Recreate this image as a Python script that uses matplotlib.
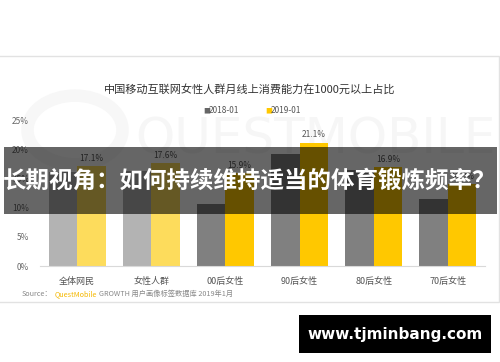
import matplotlib
matplotlib.use("Agg")
import matplotlib.pyplot as plt
from matplotlib.patches import Rectangle, Circle
import numpy as np

plt.rcParams['font.family'] = ['Noto Sans CJK SC', 'DejaVu Sans']

categories = ['全体网民', '女性人群', '00后女性', '90后女性', '80后女性', '70后女性']
vals_2018 = [16.1, 16.2, 10.7, 19.1, 16.4, 11.5]
vals_2019 = [17.1, 17.6, 15.9, 21.1, 16.9, 14.0]
labels_2019 = ['17.1%', '17.6%', '15.9%', '21.1%', '16.9%', '14.0%']
yticks = [0, 5, 10, 15, 20, 25]
ytick_labels = ['0%', '5%', '10%', '15%', '20%', '25%']
series_names = ['2018-01', '2019-01']
title = '中国移动互联网女性人群月线上消费能力在1000元以上占比'
banner = '长期视角：如何持续维持适当的体育锻炼频率？'
site = 'www.tjminbang.com'

c2018 = ['#b3b3b3', '#b3b3b3', '#808080', '#808080', '#808080', '#808080']
c2019 = ['#fddc5c', '#fddc5c', '#ffc800', '#ffc800', '#ffc800', '#ffc800']

W, H = 500, 362
fig = plt.figure(figsize=(5, 3.62), dpi=100)
fig.patch.set_facecolor('white')

def fx(px):
    return px / W

def fy(py):
    return 1 - py / H

# card border
fig.add_artist(Rectangle((fx(-2), fy(302)), fx(501), fy(56) - fy(302),
                         transform=fig.transFigure, facecolor='white',
                         edgecolor='#e2e2e2', lw=1.0, zorder=-3))

# watermark (very faint)
fig.add_artist(Circle((fx(75), fy(130)), 0.095, transform=fig.transFigure,
                      facecolor='none', edgecolor='#f7f7f7', lw=9, zorder=-2))
fig.text(fx(315), fy(140), 'QUESTMOBILE', fontsize=36, color='#f6f6f6',
         ha='center', va='center', family='DejaVu Sans', zorder=-2)

ax = fig.add_axes([fx(40), fy(266), fx(485) - fx(40), fy(120) - fy(266)])
ax.set_facecolor('none')
x = np.arange(len(categories))
w = 0.385
ax.bar(x - w / 2, vals_2018, width=w, color=c2018, zorder=2)
ax.bar(x + w / 2, vals_2019, width=w, color=c2019, zorder=2)
for xi, v, lab in zip(x, vals_2019, labels_2019):
    ax.text(xi + w / 2, v + 0.6, lab, ha='center', va='bottom', fontsize=6,
            color='#555555')

ax.set_xlim(-0.5, 5.5)
ax.set_ylim(0, 25)
ax.set_yticks(yticks)
ax.set_yticklabels(ytick_labels, fontsize=6, color='#666666')
ax.set_xticks(x)
ax.set_xticklabels(categories, fontsize=6.5, color='#555555')
ax.tick_params(axis='both', length=0)
ax.tick_params(axis='y', pad=8)
ax.tick_params(axis='x', pad=8)
for s in ['top', 'right', 'left']:
    ax.spines[s].set_visible(False)
ax.spines['bottom'].set_color('#d9d9d9')
ax.spines['bottom'].set_linewidth(0.8)

# title
fig.text(fx(250), fy(89), title, fontsize=8, color='#333333', ha='center',
         va='center')
# legend
fig.text(fx(203), fy(111), '■', fontsize=5, color='#666666', ha='left', va='center')
fig.text(fx(209), fy(111), series_names[0], fontsize=6, color='#555555', ha='left', va='center')
fig.text(fx(265), fy(111), '■', fontsize=5, color='#ffc800', ha='left', va='center')
fig.text(fx(271), fy(111), series_names[1], fontsize=6, color='#555555', ha='left', va='center')

# source line, laid out piece by piece
renderer = fig.canvas.get_renderer()
xpos = 22
for txt, col in [('Source：', '#888888'), ('QuestMobile', '#f5b800'),
                 ('GROWTH 用户画像标签数据库 2019年1月', '#888888')]:
    t = fig.text(fx(xpos), fy(294), txt, fontsize=5.2, color=col, ha='left', va='center')
    bb = t.get_window_extent(renderer=renderer)
    xpos += bb.width + 2

# banner overlay
fig.add_artist(Rectangle((fx(4), fy(214)), fx(497) - fx(4), fy(147) - fy(214),
                         transform=fig.transFigure, facecolor='black', alpha=0.6,
                         edgecolor='none', zorder=10))
fig.text(fx(250), fy(181), banner, fontsize=16.9, color='white', fontweight='bold',
         ha='center', va='center', zorder=11)

# site box
fig.add_artist(Rectangle((fx(299), fy(353)), fx(491) - fx(299), fy(315) - fy(353),
                         transform=fig.transFigure, facecolor='black',
                         edgecolor='none', zorder=10))
fig.text(fx(395), fy(334), site, fontsize=11, color='white', fontweight='bold',
         ha='center', va='center', family='DejaVu Sans', zorder=11)

fig.savefig('out.png', dpi=100, facecolor='white')
